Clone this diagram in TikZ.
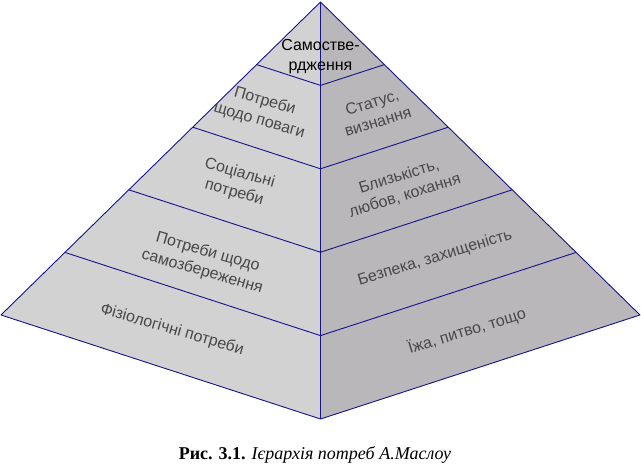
\documentclass[tikz,border=0pt]{standalone}
\usepackage{fontspec}
\setmainfont{Liberation Serif}
\newfontfamily\arialf{Liberation Sans}
\usetikzlibrary{calc}
\definecolor{leftface}{RGB}{210,210,210}
\definecolor{rightface}{RGB}{186,183,187}
\definecolor{edgeblue}{RGB}{20,20,140}
\definecolor{labelgrey}{RGB}{72,72,72}
\begin{document}
\begin{tikzpicture}[x=1pt,y=-1pt,
  edge/.style={draw=edgeblue,line width=0.9pt,line join=round},
  lbl/.style={font=\arialf\fontsize{16}{20}\selectfont,text=labelgrey,align=center,inner sep=0pt},
  lblL/.style={lbl,rotate=-16},
  lblR/.style={lbl,rotate=17}]
\useasboundingbox (0,0) rectangle (641,469);
\coordinate (A) at (320.5,2);
\coordinate (L) at (1,315);
\coordinate (F) at (320.5,419);
\coordinate (R) at (640,315);
% faces
\fill[leftface] (A) -- (L) -- (F) -- cycle;
\fill[rightface] (A) -- (F) -- (R) -- cycle;
% level points
\foreach \t/\n in {0.2/1,0.4/2,0.6/3,0.8/4}{
  \coordinate (l\n) at ($(A)!\t!(L)$);
  \coordinate (c\n) at ($(A)!\t!(F)$);
  \coordinate (r\n) at ($(A)!\t!(R)$);
  \draw[edge] (l\n) -- (c\n) -- (r\n);
}
\draw[edge] (A) -- (L) -- (F) -- (R) -- cycle;
\draw[edge] (A) -- (F);
% labels
\node[lbl,text=black] (top) at (320.5,57) {Самостве-\\рдження};
\node[lblL] (p2l) at (262,111) {Потреби\\щодо поваги};
\node[lblR] (p2r) at (375,112) {Статус,\\визнання};
\node[lblL] (p3l) at (237,183) {Соціальні\\потреби};
\node[lblR] (p3r) at (402,186) {Близькість,\\любов, кохання};
\node[lblL] (p4l) at (205,262) {Потреби щодо\\самозбереження};
\node[lblR] (p4r) at (435,258) {Безпека, захищеність};
\node[lblL] (p5l) at (172,330) {Фізіологічні потреби};
\node[lblR] (p5r) at (467,331) {Їжа, питво, тощо};
% caption
\node[font=\fontsize{18}{20}\selectfont,inner sep=0pt] (cap) at (315,455) {\textbf{Рис. 3.1.} \textit{Ієрархія потреб А.Маслоу}};
\end{tikzpicture}
\end{document}
